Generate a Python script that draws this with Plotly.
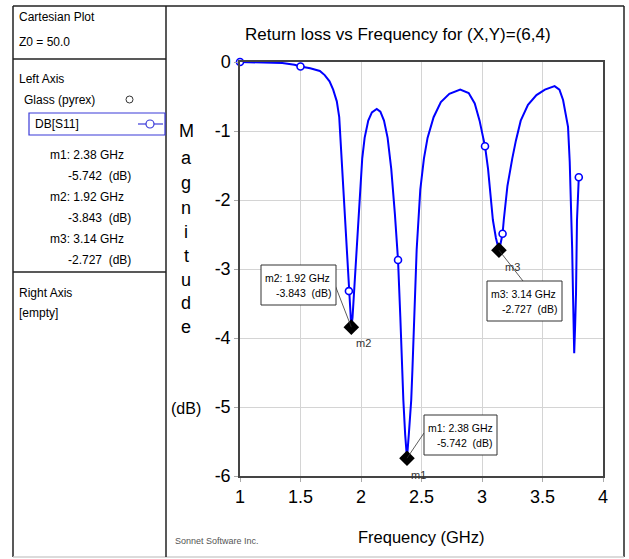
import plotly.graph_objects as go

# ---- data -------------------------------------------------------------
freq_ghz = [1.00, 1.20, 1.35, 1.45, 1.50, 1.58, 1.66, 1.70, 1.74, 1.77,
            1.80, 1.82, 1.83, 1.85, 1.87, 1.885, 1.90, 1.915, 1.92, 1.93,
            1.945, 1.967, 1.99, 2.01, 2.03, 2.06, 2.09, 2.13, 2.16, 2.19,
            2.22, 2.25, 2.28, 2.306, 2.325, 2.34, 2.35, 2.365, 2.38, 2.395,
            2.415, 2.425, 2.44, 2.46, 2.49, 2.52, 2.55, 2.60, 2.66, 2.73,
            2.82, 2.89, 2.94, 2.98, 3.01, 3.025, 3.05, 3.07, 3.09, 3.115,
            3.14, 3.155, 3.17, 3.18, 3.21, 3.25, 3.28, 3.32, 3.38, 3.45,
            3.52, 3.60, 3.64, 3.67, 3.69, 3.711, 3.725, 3.736, 3.745, 3.752,
            3.757, 3.762, 3.770, 3.777, 3.785, 3.80]
s11_db = [0.000, -0.003, -0.015, -0.040, -0.065, -0.090, -0.130, -0.190, -0.280, -0.400,
          -0.570, -0.800, -1.100, -1.700, -2.250, -2.720, -3.320, -3.720, -3.843, -3.700,
          -3.250, -2.720, -1.850, -1.400, -1.100, -0.850, -0.730, -0.680, -0.720, -0.850,
          -1.100, -1.550, -2.200, -2.870, -3.700, -4.460, -4.900, -5.400, -5.742, -5.400,
          -4.900, -4.460, -3.600, -2.720, -1.850, -1.400, -1.100, -0.800, -0.580, -0.460,
          -0.400, -0.450, -0.600, -0.850, -1.100, -1.220, -1.550, -1.900, -2.290, -2.550,
          -2.727, -2.620, -2.490, -2.290, -1.800, -1.400, -1.140, -0.850, -0.620, -0.480,
          -0.400, -0.350, -0.400, -0.550, -0.750, -0.940, -1.450, -2.000, -2.700, -3.350,
          -3.850, -4.220, -3.800, -3.350, -2.290, -1.670]

# simulated (non-interpolated) frequency points
sample_ghz = [1.00, 1.50, 1.90, 2.306, 3.025, 3.17, 3.80]
sample_db = [s11_db[freq_ghz.index(f)] for f in sample_ghz]

marker_names = ["m1", "m2", "m3"]
marker_ghz = [2.38, 1.92, 3.14]
marker_db = [-5.742, -3.843, -2.727]

x_ticks = [1, 1.5, 2, 2.5, 3, 3.5, 4]
x_tick_labels = ["1", "1.5", "2", "2.5", "3", "3.5", "4"]
y_ticks = [0, -1, -2, -3, -4, -5, -6]
y_tick_labels = ["0", "-1", "-2", "-3", "-4", "-5", "-6"]

# ---- layout geometry (pixels) -----------------------------------------
W, H = 629, 559
PL, PR, PT, PB = 240, 603, 62, 476
XMIN, XMAX, YMIN, YMAX = 1, 4, -6, 0

FONT = "Liberation Sans, Arial, sans-serif"
BLUE = "#0000ff"


def px(p):
    return (p - PL) / (PR - PL)


def py(p):
    return (PB - p) / (PB - PT)


def dx(p):
    return XMIN + (p - PL) * (XMAX - XMIN) / (PR - PL)


def dy(p):
    return YMAX - (p - PT) * (YMAX - YMIN) / (PB - PT)


fig = go.Figure()

fig.add_trace(go.Scatter(x=freq_ghz, y=s11_db, mode="lines",
                         line=dict(color=BLUE, width=2), hoverinfo="skip",
                         showlegend=False, cliponaxis=False))
fig.add_trace(go.Scatter(x=sample_ghz, y=sample_db, mode="markers",
                         marker=dict(symbol="circle", size=7, color="white",
                                     line=dict(color=BLUE, width=1.6)),
                         showlegend=False, cliponaxis=False))
fig.add_trace(go.Scatter(x=marker_ghz, y=marker_db, mode="markers",
                         marker=dict(symbol="diamond", size=12, color="black"),
                         showlegend=False, cliponaxis=False))

shapes = []
annotations = []


def text(x, y, s, size=12, anchor="left", color="black"):
    annotations.append(dict(x=px(x), y=py(y), xref="paper", yref="paper",
                            text=s, showarrow=False, xanchor=anchor,
                            yanchor="middle",
                            font=dict(family=FONT, size=size, color=color)))


def pline(x0, y0, x1, y1, color="black", width=1):
    shapes.append(dict(type="line", xref="paper", yref="paper",
                       x0=px(x0), y0=py(y0), x1=px(x1), y1=py(y1),
                       line=dict(color=color, width=width)))


# outer frame and side panel
pline(13, 6, 624, 6, "#222", 1.5)
pline(624, 6, 624, 557, "#222", 1.5)
pline(13, 6, 13, 557, "#222", 1.5)
pline(13, 557, 624, 557, "#cfcfcf", 1.5)
pline(166, 6, 166, 557, "#222", 1.5)
pline(13, 59, 166, 59, "#222", 1.5)
pline(13, 272, 166, 272, "#222", 1.5)

text(17, 17, "Cartesian Plot")
text(17, 42, "Z0 = 50.0")
text(17, 79, "Left Axis")
text(22, 100, "Glass (pyrex)")
shapes.append(dict(type="circle", xref="paper", yref="paper",
                   x0=px(126), x1=px(133), y0=py(96), y1=py(103),
                   line=dict(color="#333", width=1)))
shapes.append(dict(type="rect", xref="paper", yref="paper",
                   x0=px(29), x1=px(165), y0=py(113), y1=py(135),
                   line=dict(color="#3a3ad8", width=1.2)))
text(33, 124, "DB[S11]")
pline(138, 124, 163, 124, "#3a3ad8", 1.2)
shapes.append(dict(type="circle", xref="paper", yref="paper",
                   x0=px(146), x1=px(154), y0=py(120), y1=py(128),
                   fillcolor="white", line=dict(color="#3a3ad8", width=1.2)))

for i, (name, f, db) in enumerate(zip(marker_names, marker_ghz, marker_db)):
    y0 = 155 + 42 * i
    text(48, y0, f"{name}: {f:.2f} GHz")
    text(66, y0 + 21, f"{db:.3f}  (dB)")

text(17, 293, "Right Axis")
text(17, 313, "[empty]")

# title and axis captions
text(398, 35, "Return loss vs Frequency for (X,Y)=(6,4)", size=17, anchor="center")
text(421, 537, "Frequency (GHz)", size=16.5, anchor="center")
text(173, 541, "Sonnet Software Inc.", size=9, color="#555")
for ch, yy in zip("Magnitude", [131, 158, 183, 208, 232, 256, 280, 303, 327]):
    text(186, yy, ch, size=18, anchor="center")
text(186, 408, "(dB)", size=16, anchor="center")

# marker call-out boxes: (left, top, right, bottom) pixel box,
# leader-line anchor on the box, and label offset
callouts = {
    "m2": dict(box=(261, 265, 336, 305), anchor=(335, 285), lab=(363, 343)),
    "m1": dict(box=(424, 415, 497, 455), anchor=(424, 433), lab=(418, 475)),
    "m3": dict(box=(487, 281, 562, 321), anchor=(523, 281), lab=(512, 267)),
}
for name, f, db in zip(marker_names, marker_ghz, marker_db):
    c = callouts[name]
    l, t, r, b = c["box"]
    shapes.append(dict(type="line", xref="x", yref="y",
                       x0=f, y0=db, x1=dx(c["anchor"][0]), y1=dy(c["anchor"][1]),
                       line=dict(color="#333", width=0.8)))
    shapes.append(dict(type="rect", xref="paper", yref="paper",
                       x0=px(l), x1=px(r), y0=py(t), y1=py(b),
                       fillcolor="white", line=dict(color="#333", width=1)))
    text(l + 2, t + 13, f"{name}: {f:.2f} GHz", size=10.5)
    text(r - 3, t + 28, f"{db:.3f}  (dB)", size=10.5, anchor="right")
    text(c["lab"][0], c["lab"][1], name, size=11, anchor="center", color="#333")

fig.update_layout(
    width=W, height=H, autosize=False,
    margin=dict(l=PL, r=W - PR, t=PT, b=H - PB),
    paper_bgcolor="white", plot_bgcolor="white",
    font=dict(family=FONT, color="black"),
    shapes=shapes, annotations=annotations,
    xaxis=dict(range=[XMIN, XMAX], tickvals=x_ticks, ticktext=x_tick_labels,
               showgrid=True, gridcolor="#d4d4d4", gridwidth=1,
               showline=True, linecolor="#444", linewidth=1.5, mirror=True,
               ticks="outside", ticklen=4, tickcolor="#aaa",
               tickfont=dict(size=18), zeroline=False, fixedrange=True),
    yaxis=dict(range=[YMIN, YMAX], tickvals=y_ticks, ticktext=y_tick_labels,
               showgrid=True, gridcolor="#d4d4d4", gridwidth=1,
               showline=True, linecolor="#444", linewidth=1.5, mirror=True,
               ticks="outside", ticklen=4, tickcolor="#aaa",
               tickfont=dict(size=18), zeroline=False, fixedrange=True),
)

fig.write_html("out.html", config={"displayModeBar": False})
